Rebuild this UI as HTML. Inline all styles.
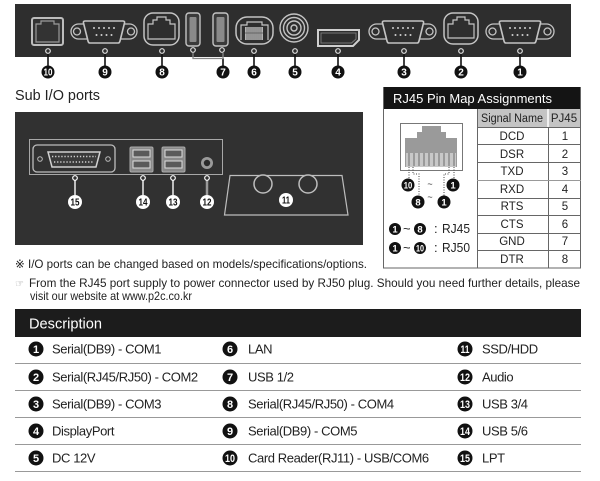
<!DOCTYPE html>
<html><head><meta charset="utf-8"><style>
html,body{margin:0;padding:0;background:#fff;}
svg{display:block;}
</style></head><body>
<svg width="600" height="481" viewBox="0 0 600 481" xmlns="http://www.w3.org/2000/svg" font-family="'Liberation Sans', sans-serif">
<rect width="600" height="481" fill="#fff"/>

<!-- ===== TOP PANEL ===== -->
<rect x="15" y="4" width="556" height="53" fill="#2e2e2e"/>

<!-- 10 RJ11 -->
<rect x="32" y="18" width="31" height="27" rx="2" fill="#333" stroke="#bdbdbd" stroke-width="2"/>
<path d="M36 42 V24 H41 V21 H54 V24 H59 V42 Z" fill="none" stroke="#9a9a9a" stroke-width="1.2"/>

<!-- DB9 9 -->
<g stroke="#c4c4c4" fill="none" stroke-width="1.3">
<rect x="71" y="24" width="66" height="15" rx="7.5"/>
<circle cx="77" cy="31.5" r="3.5"/><circle cx="131" cy="31.5" r="3.5"/>
<path d="M85 21 H123 Q125 21 124.5 23 L120 41 Q119.5 43 118 43 H90 Q88.5 43 88 41 L83.5 23 Q83 21 85 21 Z" fill="#2e2e2e" stroke-width="1.6"/>
</g>
<g fill="#cfcfcf"><circle cx="94" cy="28" r="1"/><circle cx="99" cy="28" r="1"/><circle cx="104" cy="28" r="1"/><circle cx="109" cy="28" r="1"/><circle cx="114" cy="28" r="1"/><circle cx="96.5" cy="35" r="1"/><circle cx="101.5" cy="35" r="1"/><circle cx="106.5" cy="35" r="1"/><circle cx="111.5" cy="35" r="1"/></g>

<!-- 8 RJ45 -->
<rect x="144" y="13" width="35" height="32" rx="9" fill="none" stroke="#c4c4c4" stroke-width="1.5"/>
<path d="M148 39 H175 V24 H170 V20 H166 V17 H157 V20 H153 V24 H148 Z" fill="none" stroke="#c4c4c4" stroke-width="1.2"/>

<!-- 7 USB -->
<rect x="186" y="13" width="14" height="33" rx="3" fill="#3a3a3a" stroke="#c4c4c4" stroke-width="1.4"/>
<rect x="189.5" y="17" width="7" height="25" rx="1" fill="#8a8a8a"/>
<rect x="213" y="13" width="15" height="33" rx="3" fill="#3a3a3a" stroke="#c4c4c4" stroke-width="1.4"/>
<rect x="216.5" y="17" width="8" height="25" rx="1" fill="#8a8a8a"/>

<!-- 6 LAN -->
<rect x="236" y="17" width="37" height="27" rx="11" fill="none" stroke="#c4c4c4" stroke-width="1.5"/>
<path d="M241 40 V25 H247 V22 H262 V25 H268 V40" fill="none" stroke="#c4c4c4" stroke-width="1.2"/>
<rect x="245" y="27" width="18" height="13" fill="#b5b5b5"/>
<g stroke="#555" stroke-width="0.7"><line x1="247" y1="27" x2="247" y2="40"/><line x1="249" y1="27" x2="249" y2="40"/><line x1="251" y1="27" x2="251" y2="40"/><line x1="253" y1="27" x2="253" y2="40"/><line x1="255" y1="27" x2="255" y2="40"/><line x1="257" y1="27" x2="257" y2="40"/><line x1="259" y1="27" x2="259" y2="40"/><line x1="261" y1="27" x2="261" y2="40"/><line x1="245" y1="33" x2="263" y2="33"/></g>

<!-- 5 DC -->
<g fill="none" stroke="#c4c4c4" stroke-width="1.4">
<circle cx="294" cy="28" r="14"/><circle cx="294" cy="28" r="10.5"/><circle cx="294" cy="28" r="7"/><circle cx="294" cy="28" r="3"/>
</g>

<!-- 4 DP -->
<path d="M318 30 H359 V40 L353 46 H318 Z" fill="none" stroke="#cfcfcf" stroke-width="2"/>
<path d="M321 33 H356 V39 L351.5 43 H321 Z" fill="none" stroke="#777" stroke-width="1"/>

<!-- DB9 3 -->
<g stroke="#c4c4c4" fill="none" stroke-width="1.3">
<rect x="369" y="24" width="67" height="15" rx="7.5"/>
<circle cx="375.5" cy="31.5" r="3.5"/><circle cx="429.5" cy="31.5" r="3.5"/>
<path d="M384 21 H422 Q424 21 423.5 23 L419 41 Q418.5 43 417 43 H389 Q387.5 43 387 41 L382.5 23 Q382 21 384 21 Z" fill="#2e2e2e" stroke-width="1.6"/>
</g>
<g fill="#cfcfcf"><circle cx="393" cy="28" r="1"/><circle cx="398" cy="28" r="1"/><circle cx="403" cy="28" r="1"/><circle cx="408" cy="28" r="1"/><circle cx="413" cy="28" r="1"/><circle cx="395.5" cy="35" r="1"/><circle cx="400.5" cy="35" r="1"/><circle cx="405.5" cy="35" r="1"/><circle cx="410.5" cy="35" r="1"/></g>

<!-- 2 RJ45 -->
<rect x="444" y="13" width="34" height="31" rx="9" fill="none" stroke="#c4c4c4" stroke-width="1.5"/>
<path d="M448 38 H474 V24 H469 V20 H465 V17 H457 V20 H453 V24 H448 Z" fill="none" stroke="#c4c4c4" stroke-width="1.2"/>

<!-- DB9 1 -->
<g stroke="#c4c4c4" fill="none" stroke-width="1.3">
<rect x="486" y="24" width="68" height="15" rx="7.5"/>
<circle cx="492.5" cy="31.5" r="3.5"/><circle cx="547.5" cy="31.5" r="3.5"/>
<path d="M501 21 H539 Q541 21 540.5 23 L536 41 Q535.5 43 534 43 H506 Q504.5 43 504 41 L499.5 23 Q499 21 501 21 Z" fill="#2e2e2e" stroke-width="1.6"/>
</g>
<g fill="#cfcfcf"><circle cx="510" cy="28" r="1"/><circle cx="515" cy="28" r="1"/><circle cx="520" cy="28" r="1"/><circle cx="525" cy="28" r="1"/><circle cx="530" cy="28" r="1"/><circle cx="512.5" cy="35" r="1"/><circle cx="517.5" cy="35" r="1"/><circle cx="522.5" cy="35" r="1"/><circle cx="527.5" cy="35" r="1"/></g>

<!-- top leaders -->
<g stroke="#111" stroke-width="1.6">
<line x1="48" y1="54" x2="48" y2="67"/>
<line x1="105" y1="54" x2="105" y2="67"/>
<line x1="162" y1="54" x2="162" y2="67"/>
<line x1="254" y1="54" x2="254" y2="67"/>
<line x1="295" y1="54" x2="295" y2="67"/>
<line x1="338" y1="54" x2="338" y2="67"/>
<line x1="404" y1="54" x2="404" y2="67"/>
<line x1="461" y1="54" x2="461" y2="67"/>
<line x1="520" y1="54" x2="520" y2="67"/>
<line x1="223" y1="58" x2="223" y2="67"/>
</g>
<path d="M193 53 V58.5 H223 V53" fill="none" stroke="#888" stroke-width="1.3"/>
<g fill="#2e2e2e" stroke="#e0e0e0" stroke-width="1.2">
<circle cx="48" cy="51" r="2.3"/><circle cx="105" cy="51" r="2.3"/><circle cx="162" cy="51" r="2.3"/>
<circle cx="193" cy="50" r="2.3"/><circle cx="222" cy="50" r="2.3"/><circle cx="254" cy="51" r="2.3"/>
<circle cx="295" cy="51" r="2.3"/><circle cx="338" cy="51" r="2.3"/><circle cx="404" cy="51" r="2.3"/>
<circle cx="461" cy="51" r="2.3"/><circle cx="520" cy="51" r="2.3"/>
</g>
<g fill="#111">
<circle cx="48" cy="72" r="6.5"/><circle cx="105" cy="72" r="6.5"/><circle cx="162" cy="72" r="6.5"/>
<circle cx="223" cy="72" r="6.5"/><circle cx="254" cy="72" r="6.5"/><circle cx="295" cy="72" r="6.5"/>
<circle cx="338" cy="72" r="6.5"/><circle cx="404" cy="72" r="6.5"/><circle cx="461" cy="72" r="6.5"/>
<circle cx="520" cy="72" r="6.5"/>
</g>
<g fill="#fff" font-weight="bold" font-size="10" text-anchor="middle">
<text x="48" y="75.5" textLength="9" lengthAdjust="spacingAndGlyphs">10</text>
<text x="105" y="75.5">9</text><text x="162" y="75.5">8</text><text x="223" y="75.5">7</text>
<text x="254" y="75.5">6</text><text x="295" y="75.5">5</text><text x="338" y="75.5">4</text>
<text x="404" y="75.5">3</text><text x="461" y="75.5">2</text><text x="520" y="75.5">1</text>
</g>

<!-- ===== SUB I/O ===== -->
<text x="15" y="100" font-size="14.5" fill="#222" textLength="85" lengthAdjust="spacingAndGlyphs">Sub I/O ports</text>
<rect x="15" y="112" width="348" height="133" fill="#313131"/>
<rect x="29.5" y="139.5" width="193" height="35" fill="none" stroke="#a8a8a8" stroke-width="1"/>
<!-- LPT -->
<rect x="33" y="145" width="82" height="27" rx="4" fill="none" stroke="#bdbdbd" stroke-width="1.3"/>
<circle cx="40" cy="159" r="2.3" fill="none" stroke="#bbb" stroke-width="1"/>
<circle cx="108" cy="159" r="2.3" fill="none" stroke="#bbb" stroke-width="1"/>
<path d="M48 152 H100 L96 167 H52 Z" fill="#3a3a3a" stroke="#d0d0d0" stroke-width="1.5"/>
<g stroke="#cfcfcf" stroke-width="1.6" stroke-dasharray="1.3 1.8">
<line x1="52" y1="156.5" x2="96" y2="156.5"/>
<line x1="54" y1="162" x2="94" y2="162"/>
</g>
<!-- USB 14 -->
<rect x="130" y="147" width="23" height="25" rx="1.5" fill="#8a8a8a" stroke="#aaa" stroke-width="1"/>
<rect x="133" y="150" width="17" height="7" fill="#5a5a5a" stroke="#ddd" stroke-width="1"/>
<rect x="133" y="161" width="17" height="7" fill="#5a5a5a" stroke="#ddd" stroke-width="1"/>
<!-- USB 13 -->
<rect x="162" y="147" width="23" height="25" rx="1.5" fill="#8a8a8a" stroke="#aaa" stroke-width="1"/>
<rect x="165" y="150" width="17" height="7" fill="#5a5a5a" stroke="#ddd" stroke-width="1"/>
<rect x="165" y="161" width="17" height="7" fill="#5a5a5a" stroke="#ddd" stroke-width="1"/>
<!-- audio -->
<circle cx="207" cy="163" r="6" fill="#9a9a9a"/>
<circle cx="207" cy="163" r="3.2" fill="#2a2a2a"/>
<!-- HDD trapezoid -->
<path d="M230 175.5 H342 L348 215 H224.5 Z" fill="none" stroke="#bdbdbd" stroke-width="1.2"/>
<circle cx="263" cy="184" r="9" fill="#313131" stroke="#bdbdbd" stroke-width="1.5"/>
<circle cx="308" cy="184" r="9" fill="#313131" stroke="#bdbdbd" stroke-width="1.5"/>
<!-- sub leaders -->
<g stroke="#eee" stroke-width="1.5">
<line x1="75" y1="180" x2="75" y2="195"/><line x1="143" y1="180" x2="143" y2="195"/>
<line x1="173" y1="180" x2="173" y2="195"/>
</g>
<line x1="207" y1="180" x2="207" y2="195" stroke="#999" stroke-width="2.5"/>
<g fill="#313131" stroke="#fff" stroke-width="1.2">
<circle cx="75" cy="178" r="2.3"/><circle cx="143" cy="178" r="2.3"/><circle cx="173" cy="178" r="2.3"/><circle cx="207" cy="178" r="2.3"/>
</g>
<g fill="#fff">
<circle cx="75" cy="202" r="7"/><circle cx="143" cy="202" r="7"/><circle cx="173" cy="202" r="7"/><circle cx="207" cy="202" r="7"/><circle cx="286" cy="200" r="7"/>
</g>
<g fill="#111" font-weight="bold" font-size="10" text-anchor="middle">
<text x="75" y="205.5" textLength="9" lengthAdjust="spacingAndGlyphs">15</text>
<text x="143" y="205.5" textLength="9" lengthAdjust="spacingAndGlyphs">14</text>
<text x="173" y="205.5" textLength="9" lengthAdjust="spacingAndGlyphs">13</text>
<text x="207" y="205.5" textLength="9" lengthAdjust="spacingAndGlyphs">12</text>
<text x="286" y="203.5" textLength="8" lengthAdjust="spacingAndGlyphs">11</text>
</g>

<!-- ===== RJ45 PIN MAP ===== -->
<rect x="383" y="87" width="198" height="22" fill="#141414"/>
<text x="393" y="103" font-size="13" fill="#fff" textLength="159" lengthAdjust="spacingAndGlyphs">RJ45 Pin Map Assignments</text>
<rect x="477" y="109" width="104" height="18" fill="#c4c4c4"/>
<line x1="548" y1="109" x2="548" y2="127" stroke="#fff" stroke-width="1.5"/>
<g stroke="#666" stroke-width="1" fill="none">
<line x1="383.5" y1="87" x2="383.5" y2="268"/>
<line x1="580.5" y1="87" x2="580.5" y2="268"/>
<line x1="383" y1="268" x2="581" y2="268"/>
<line x1="477.5" y1="109" x2="477.5" y2="268"/>
<line x1="548.5" y1="127" x2="548.5" y2="268"/>
<line x1="477" y1="127.5" x2="581" y2="127.5"/>
<line x1="477" y1="144.5" x2="581" y2="144.5"/>
<line x1="477" y1="162.5" x2="581" y2="162.5"/>
<line x1="477" y1="180.5" x2="581" y2="180.5" stroke="#999"/>
<line x1="477" y1="198.5" x2="581" y2="198.5"/>
<line x1="477" y1="215.5" x2="581" y2="215.5"/>
<line x1="477" y1="233.5" x2="581" y2="233.5"/>
<line x1="477" y1="250.5" x2="581" y2="250.5"/>
</g>
<g font-size="11.5" fill="#222" text-anchor="middle">
<text x="512" y="122" textLength="62" lengthAdjust="spacingAndGlyphs">Signal Name</text>
<text x="564" y="122">PJ45</text>
<text x="512" y="140">DCD</text><text x="565" y="140">1</text>
<text x="512" y="158">DSR</text><text x="565" y="158">2</text>
<text x="512" y="175">TXD</text><text x="565" y="175">3</text>
<text x="512" y="193">RXD</text><text x="565" y="193">4</text>
<text x="512" y="210">RTS</text><text x="565" y="210">5</text>
<text x="512" y="228">CTS</text><text x="565" y="228">6</text>
<text x="512" y="245">GND</text><text x="565" y="245">7</text>
<text x="512" y="263">DTR</text><text x="565" y="263">8</text>
</g>
<!-- connector drawing -->
<rect x="400.5" y="123.5" width="62" height="47" fill="#fff" stroke="#777" stroke-width="1"/>
<path d="M405 138 H417 V132 H422 V126 H441 V132 H446 V138 H457 V167 H405 Z" fill="#9a9a9a"/>
<rect x="406" y="153" width="50" height="14" fill="#c8c8c8"/>
<g stroke="#555" stroke-width="0.8">
<line x1="409" y1="153" x2="409" y2="166"/><line x1="414" y1="153" x2="414" y2="166"/><line x1="419" y1="153" x2="419" y2="166"/><line x1="424" y1="153" x2="424" y2="166"/><line x1="429" y1="153" x2="429" y2="166"/><line x1="434" y1="153" x2="434" y2="166"/><line x1="439" y1="153" x2="439" y2="166"/><line x1="444" y1="153" x2="444" y2="166"/><line x1="449" y1="153" x2="449" y2="166"/><line x1="454" y1="153" x2="454" y2="166"/>
</g>
<g fill="none" stroke="#444" stroke-width="1" stroke-dasharray="1 1.5">
<path d="M409 167 V179"/>
<path d="M413 167 V174 H419 V196"/>
<path d="M454 167 V179"/>
<path d="M449 167 V174 H444 V196"/>
</g>
<g fill="#111">
<circle cx="408" cy="185" r="6.5"/><circle cx="453" cy="185" r="6.5"/>
<circle cx="418" cy="202" r="6.5"/><circle cx="444" cy="202" r="6.5"/>
<circle cx="395" cy="229" r="6"/><circle cx="420" cy="229" r="6"/>
<circle cx="395" cy="248" r="6"/><circle cx="420" cy="248" r="6"/>
</g>
<g fill="#fff" font-weight="bold" font-size="9.5" text-anchor="middle">
<text x="408" y="188.5" textLength="8.5" lengthAdjust="spacingAndGlyphs">10</text>
<text x="453" y="188.5">1</text><text x="418" y="205.5">8</text><text x="444" y="205.5">1</text>
<text x="395" y="232.5">1</text><text x="420" y="232.5">8</text>
<text x="395" y="251.5">1</text><text x="420" y="251.5" textLength="8" lengthAdjust="spacingAndGlyphs">10</text>
</g>
<g fill="#333" font-size="9" text-anchor="middle">
<text x="430" y="187">~</text><text x="430" y="200">~</text>
</g>
<g fill="#222" font-size="13">
<text x="403" y="233">~</text><text x="403" y="252">~</text>
<text x="434" y="233">:</text><text x="442" y="233" textLength="28" lengthAdjust="spacingAndGlyphs">RJ45</text>
<text x="434" y="252">:</text><text x="442" y="252" textLength="28" lengthAdjust="spacingAndGlyphs">RJ50</text>
</g>

<!-- ===== NOTES ===== -->
<g font-size="12" fill="#222">
<text x="15" y="268" textLength="352" lengthAdjust="spacingAndGlyphs">※ I/O ports can be changed based on models/specifications/options.</text>
<text x="15" y="287" fill="#999" font-size="10">☞</text>
<text x="29" y="287" textLength="551" lengthAdjust="spacingAndGlyphs">From the RJ45 port supply to power connector used by RJ50 plug. Should you need further details, please</text>
<text x="30" y="300" textLength="162" lengthAdjust="spacingAndGlyphs">visit our website at www.p2c.co.kr</text>
</g>

<!-- ===== DESCRIPTION ===== -->
<rect x="15" y="309" width="566" height="28" fill="#1c1c1c"/>
<text x="29" y="328.5" font-size="15" fill="#fff" textLength="73" lengthAdjust="spacingAndGlyphs">Description</text>
<g stroke="#999" stroke-width="1">
<line x1="15" y1="363.5" x2="581" y2="363.5"/>
<line x1="15" y1="390.5" x2="581" y2="390.5"/>
<line x1="15" y1="417.5" x2="581" y2="417.5"/>
<line x1="15" y1="444.5" x2="581" y2="444.5"/>
<line x1="15" y1="471.5" x2="581" y2="471.5"/>
</g>
<g fill="#111">
<circle cx="36" cy="349" r="7.5"/><circle cx="36" cy="377" r="7.5"/><circle cx="36" cy="404" r="7.5"/><circle cx="36" cy="431" r="7.5"/><circle cx="36" cy="458" r="7.5"/>
<circle cx="230" cy="349" r="7.5"/><circle cx="230" cy="377" r="7.5"/><circle cx="230" cy="404" r="7.5"/><circle cx="230" cy="431" r="7.5"/><circle cx="230" cy="458" r="7.5"/>
<circle cx="465" cy="349" r="7.5"/><circle cx="465" cy="377" r="7.5"/><circle cx="465" cy="404" r="7.5"/><circle cx="465" cy="431" r="7.5"/><circle cx="465" cy="458" r="7.5"/>
</g>
<g fill="#fff" font-weight="bold" font-size="11" text-anchor="middle">
<text x="36" y="353">1</text><text x="36" y="381">2</text><text x="36" y="408">3</text><text x="36" y="435">4</text><text x="36" y="462">5</text>
<text x="230" y="353">6</text><text x="230" y="381">7</text><text x="230" y="408">8</text><text x="230" y="435">9</text>
<text x="230" y="462" textLength="10" lengthAdjust="spacingAndGlyphs">10</text>
<text x="465" y="353" textLength="9" lengthAdjust="spacingAndGlyphs">11</text>
<text x="465" y="381" textLength="10" lengthAdjust="spacingAndGlyphs">12</text>
<text x="465" y="408" textLength="10" lengthAdjust="spacingAndGlyphs">13</text>
<text x="465" y="435" textLength="10" lengthAdjust="spacingAndGlyphs">14</text>
<text x="465" y="462" textLength="10" lengthAdjust="spacingAndGlyphs">15</text>
</g>
<g font-size="13" fill="#222" letter-spacing="-0.4">
<text x="52" y="353.5">Serial(DB9) - COM1</text>
<text x="52" y="381.5">Serial(RJ45/RJ50) - COM2</text>
<text x="52" y="408.5">Serial(DB9) - COM3</text>
<text x="52" y="435.5">DisplayPort</text>
<text x="52" y="462.5">DC 12V</text>
<text x="248" y="353.5">LAN</text>
<text x="248" y="381.5">USB 1/2</text>
<text x="248" y="408.5">Serial(RJ45/RJ50) - COM4</text>
<text x="248" y="435.5">Serial(DB9) - COM5</text>
<text x="248" y="462.5">Card Reader(RJ11) - USB/COM6</text>
<text x="482" y="353.5">SSD/HDD</text>
<text x="482" y="381.5">Audio</text>
<text x="482" y="408.5">USB 3/4</text>
<text x="482" y="435.5">USB 5/6</text>
<text x="482" y="462.5">LPT</text>
</g>
</svg>
</body></html>
